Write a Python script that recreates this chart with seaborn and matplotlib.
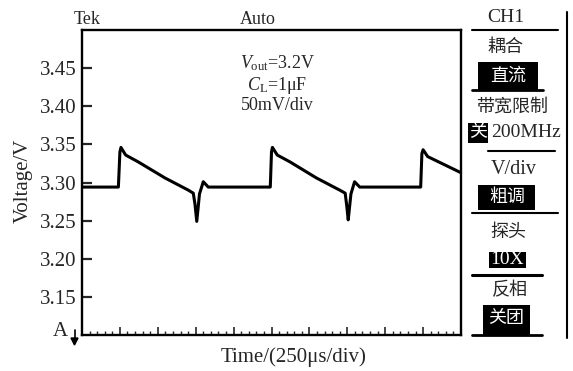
import matplotlib
matplotlib.use("Agg")
import matplotlib.pyplot as plt
import seaborn as sns
import pandas as pd
from matplotlib.lines import Line2D
from matplotlib.patches import Rectangle, Polygon

# ---- data (time in µs, voltage in V) ----
time_us = [0, 240, 250, 257, 288, 371, 547, 701, 734, 745, 757, 775, 800, 833,
           1242, 1250, 1256, 1288, 1372, 1546, 1700, 1736, 1746, 1756, 1774, 1798, 1832,
           2234, 2242, 2250, 2280, 2498]
voltage = [3.294, 3.294, 3.340, 3.346, 3.336, 3.327, 3.306, 3.290, 3.286, 3.272, 3.249, 3.285, 3.301, 3.294,
           3.294, 3.340, 3.346, 3.336, 3.327, 3.306, 3.290, 3.286, 3.270, 3.251, 3.285, 3.301, 3.294,
           3.294, 3.338, 3.343, 3.334, 3.313]
ytick_vals = [3.15, 3.20, 3.25, 3.30, 3.35, 3.40, 3.45]
ytick_labels = ["3.15", "3.20", "3.25", "3.30", "3.35", "3.40", "3.45"]
xmajor = [0, 250, 500, 750, 1000, 1250, 1500, 1750, 2000, 2250, 2500]
xminor = list(range(0, 2501, 50))

annot_lines = [r"$V_{\mathrm{out}}$=3.2V", r"$C_{\mathrm{L}}$=1μF", "50mV/div"]

sns.set_style("white")
plt.rcParams["font.family"] = ["Liberation Serif", "Noto Sans CJK SC", "DejaVu Sans"]
plt.rcParams["mathtext.fontset"] = "custom"
plt.rcParams["mathtext.rm"] = "Liberation Serif"
plt.rcParams["mathtext.it"] = "Liberation Serif:italic"

W, H = 573, 371
fig = plt.figure(figsize=(W / 100, H / 100), dpi=100)
fig.patch.set_facecolor("white")


def P(x, y):
    return x / W, 1 - y / H


ax = fig.add_axes([82 / W, (H - 335) / H, 379 / W, 305 / H])
df = pd.DataFrame({"t": time_us, "v": voltage})
sns.lineplot(data=df, x="t", y="v", ax=ax, color="black", lw=2.2,
             estimator=None, sort=False)
ax.set_xlim(0, 2500)
ax.set_ylim(3.10, 3.50)
ax.set_xlabel("")
ax.set_ylabel("")
for s in ax.spines.values():
    s.set_visible(True)
    s.set_color("black")
    s.set_linewidth(1.7)

ax.set_yticks(ytick_vals)
ax.set_yticklabels(ytick_labels)
ax.set_xticks(xmajor)
ax.set_xticks(xminor, minor=True)
ax.set_xticklabels([])
ax.tick_params(axis="y", direction="in", length=7, width=1.6, labelsize=15,
               pad=4, left=True, right=False)
ax.tick_params(axis="x", which="major", direction="in", length=6, width=1.2,
               bottom=True, top=False)
ax.tick_params(axis="x", which="minor", direction="in", length=3, width=1.0,
               bottom=True, top=False)

# axis labels
fig.text(*P(23, 181), "Voltage/V", rotation=90, ha="center", va="center", fontsize=15)
fig.text(*P(294, 357), "Time/(250μs/div)", ha="center", va="center", fontsize=15)

# header texts
fig.text(*P(87, 19), "Tek", ha="center", va="center", fontsize=13)
fig.text(*P(258, 19), "Auto", ha="center", va="center", fontsize=13)
for txt, yy in zip(annot_lines, [63, 85, 106]):
    fig.text(*P(277, yy), txt, ha="center", va="center", fontsize=13)

# trigger marker "A" with arrow
fig.text(*P(60, 332), "A", ha="center", va="center", fontsize=15)
fig.add_artist(Line2D([74.5 / W, 74.5 / W], [1 - 330 / H, 1 - 339 / H],
                      transform=fig.transFigure, color="black", lw=1.2))
fig.add_artist(Polygon([P(71, 338), P(78, 338), P(74.5, 345)], closed=True,
                       transform=fig.transFigure, color="black"))


def hline(x1, x2, y, lw=1.5):
    fig.add_artist(Line2D([x1 / W, x2 / W], [1 - y / H, 1 - y / H],
                          transform=fig.transFigure, color="black", lw=lw))


def box(x1, x2, y1, y2):
    fig.add_artist(Rectangle(P(x1, y2), (x2 - x1) / W, (y2 - y1) / H,
                             transform=fig.transFigure, color="black", lw=0))


# right menu panel
fig.add_artist(Line2D([567 / W, 567 / W], [1 - 12 / H, 1 - 338 / H],
                      transform=fig.transFigure, color="black", lw=1.5))
fig.text(*P(506, 17), "CH1", ha="center", va="center", fontsize=14)
hline(472, 558, 30)
fig.text(*P(505, 47), "耦合", ha="center", va="center", fontsize=13)
box(478, 538, 62, 90)
hline(472, 543, 90, lw=2)
fig.text(*P(508, 76), "直流", ha="center", va="center", fontsize=13, color="white")
fig.text(*P(512, 108), "带宽限制", ha="center", va="center", fontsize=13)
box(468, 488, 123, 143)
fig.text(*P(478, 133), "关", ha="center", va="center", fontsize=13, color="white")
fig.text(*P(526, 133), "200MHz", ha="center", va="center", fontsize=14)
hline(488, 555, 151)
fig.text(*P(514, 170), "V/div", ha="center", va="center", fontsize=14.5)
box(478, 535, 185, 210)
fig.text(*P(507, 197), "粗调", ha="center", va="center", fontsize=13, color="white")
hline(472, 558, 213)
fig.text(*P(508, 232), "探头", ha="center", va="center", fontsize=13)
box(489, 526, 252, 268)
fig.text(*P(507, 260), "10X", ha="center", va="center", fontsize=14, color="white")
hline(472, 542, 275, lw=2.2)
fig.text(*P(510, 290), "反相", ha="center", va="center", fontsize=13)
box(483, 530, 305, 335)
hline(472, 542, 335, lw=2)
fig.text(*P(506, 319), "关团", ha="center", va="center", fontsize=13, color="white")

fig.savefig("out.png", dpi=100, facecolor="white")
